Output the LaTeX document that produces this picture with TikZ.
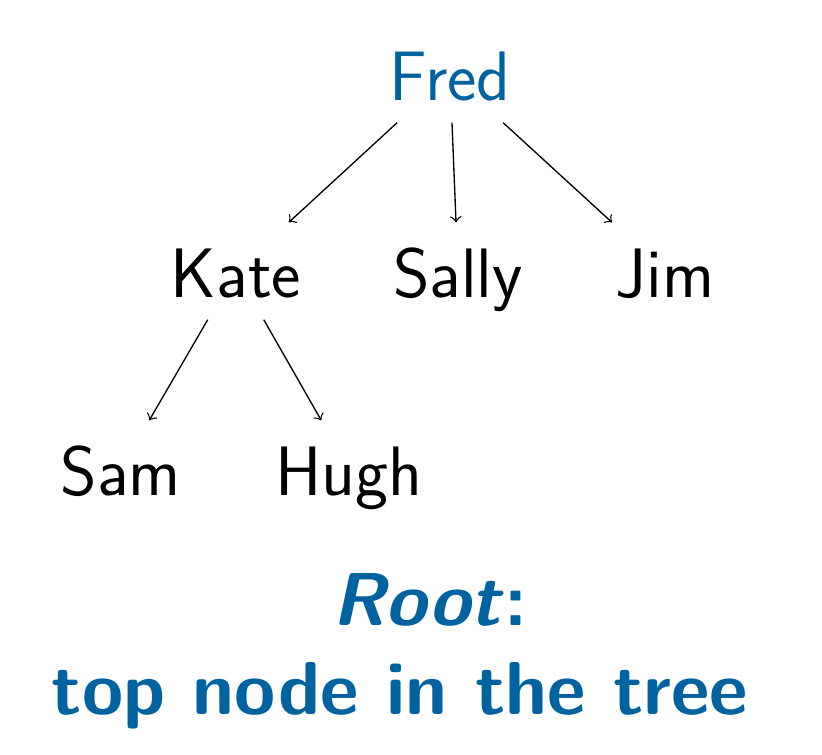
\documentclass[tikz,border=0pt]{standalone}
\usepackage{tikz}
\usetikzlibrary{arrows,positioning}
\definecolor{rootblue}{RGB}{0,99,160}

\begin{document}
\begin{tikzpicture}[x=0.3pt,y=-0.3pt,
    person/.style={font=\sffamily\fontsize{21}{25}\selectfont,anchor=base,
      inner xsep=2pt,inner ysep=0pt,text height=22.2pt,text depth=6.6pt},
    note/.style={font=\sffamily\bfseries\fontsize{22.5}{27}\selectfont,
      text=rootblue,anchor=base,inner sep=0pt}]
  \useasboundingbox (0,0) rectangle (822,754);
  \node[person,text=rootblue] (fred) at (450,100) {Fred};
  \node[person] (kate) at (236,297) {Kate};
  \node[person] (sally) at (458,297) {Sally};
  \node[person] (jim) at (665,297) {Jim};
  \node[person] (sam) at (121,495) {Sam};
  \node[person] (hugh) at (349,495) {Hugh};
  \path[->] (fred) edge (kate);
  \path[->] (fred) edge (sally);
  \path[->] (fred) edge (jim);
  \path[->] (kate) edge (sam);
  \path[->] (kate) edge (hugh);
  \node[note] (root) at (430,625) {\emph{Root}:};
  \node[note] (def) at (400,714) {top node in the tree};
\end{tikzpicture}
\end{document}
